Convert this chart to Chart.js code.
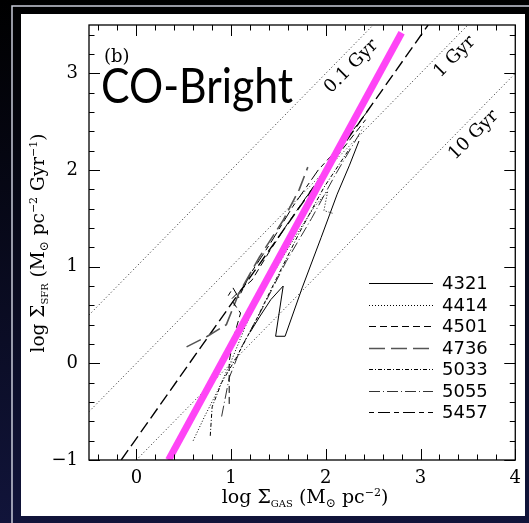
<!DOCTYPE html>
<html>
<head>
<meta charset="utf-8">
<script src="https://cdn.jsdelivr.net/npm/chart.js@4.4.0/dist/chart.umd.min.js"></script>
<style>
html, body { margin: 0; padding: 0; background: #05060f; }
canvas { display: block; }
</style>
</head>
<body>
<canvas id="ksPlot" width="529" height="523"></canvas>
<script>
// Axis ticks
const xTicks = [0, 1, 2, 3, 4];
const yTicks = [-1, 0, 1, 2, 3];

// Radial profiles, [log Σgas, log ΣSFR]
const galaxies = ['4321', '4414', '4501', '4736', '5033', '5055', '5457'];
const ngc4321 = [[1.20, 0.32], [1.30, 0.48], [1.42, 0.66], [1.55, 0.80], [1.47, 0.28], [1.57, 0.28], [1.75, 0.78], [1.95, 1.30], [2.12, 1.75], [2.25, 2.05], [2.35, 2.30]];
const ngc4414 = [[0.60, -0.80], [0.72, -0.55], [0.85, -0.30], [1.00, 0.02], [1.15, 0.38], [1.30, 0.70], [1.50, 1.02], [1.70, 1.35], [1.88, 1.62], [2.02, 1.78], [1.98, 1.58], [2.08, 1.55]];
const ngc4501 = [[0.98, -0.42], [0.98, 0.02], [1.03, 0.28], [1.10, 0.52], [1.00, 0.66], [1.08, 0.74], [1.22, 0.86], [1.40, 1.15], [1.60, 1.45], [1.85, 1.80], [2.10, 2.12], [2.42, 2.52]];
const ngc4736 = [[0.53, 0.17], [0.75, 0.28], [0.95, 0.40], [1.08, 0.72], [1.30, 1.10], [1.55, 1.48], [1.72, 1.80], [1.81, 2.03]];
const ngc5033 = [[0.78, -0.75], [0.80, -0.45], [0.90, -0.20], [1.05, 0.05], [1.25, 0.42], [1.48, 0.88], [1.72, 1.35], [1.98, 1.82], [2.25, 2.22]];
const ngc5055 = [[0.90, -0.55], [0.98, -0.15], [1.10, 0.15], [1.32, 0.55], [1.58, 1.05], [1.85, 1.50], [2.10, 1.95], [2.40, 2.45]];
const ngc5457 = [[0.97, 0.70], [1.02, 0.78], [1.08, 0.68], [1.20, 0.92], [1.42, 1.25], [1.65, 1.62], [1.92, 2.00], [2.20, 2.30], [2.45, 2.62]];

// Constant depletion times
const deplTimes = ['0.1 Gyr', '1 Gyr', '10 Gyr'];
const depl01 = [[-0.5, 0.5], [2.5, 3.5]];
const depl1 = [[-0.5, -0.5], [3.5, 3.5]];
const depl10 = [[0, -1], [4, 3]];

// Fits
const fitAll = [[-0.16, -1], [3.08, 3.5]];
const fitBright = [[0.34, -1], [2.80, 3.42]];

const toXY = arr => arr.map(p => ({ x: p[0], y: p[1] }));

const trackStyles = {
    '4321': { borderDash: [], borderColor: '#000', borderWidth: 1 },
    '4414': { borderDash: [1, 2], borderColor: '#000', borderWidth: 1 },
    '4501': { borderDash: [7, 4], borderColor: '#000', borderWidth: 1 },
    '4736': { borderDash: [16, 6], borderColor: '#555', borderWidth: 1.6 },
    '5033': { borderDash: [4, 2, 1, 2], borderColor: '#000', borderWidth: 1 },
    '5055': { borderDash: [11, 3, 1, 3], borderColor: '#333', borderWidth: 1 },
    '5457': { borderDash: [5, 4, 12, 4], borderColor: '#000', borderWidth: 1 }
};
const trackData = [ngc4321, ngc4414, ngc4501, ngc4736, ngc5033, ngc5055, ngc5457];

function lineSet(label, pts, style, order) {
    return Object.assign({
        label: label,
        data: toXY(pts),
        showLine: true,
        fill: false,
        pointRadius: 0,
        tension: 0,
        order: order
    }, style);
}

const datasets = [];
datasets.push(lineSet('fitBright', fitBright, { borderColor: '#ff44f6', borderWidth: 7, borderCapStyle: 'butt' }, 0));
galaxies.forEach((g, i) => datasets.push(lineSet(g, trackData[i], trackStyles[g], 1)));
datasets.push(lineSet('fitAll', fitAll, { borderColor: '#000', borderWidth: 1.4, borderDash: [12, 5] }, 2));
[depl01, depl1, depl10].forEach((d, i) => {
    datasets.push(lineSet(deplTimes[i], d, { borderColor: '#222', borderWidth: 1, borderDash: [1, 2.5] }, 3));
});

// Mixed-size text run: [text, fontSize, baselineShift]
function richWidth(ctx, parts, family) {
    return parts.reduce((w, p) => {
        ctx.font = p[1] + 'px ' + family;
        return w + ctx.measureText(p[0]).width;
    }, 0);
}
function drawRich(ctx, parts, x, y, family) {
    ctx.textAlign = 'left';
    let cx = x - richWidth(ctx, parts, family) / 2;
    parts.forEach(p => {
        ctx.font = p[1] + 'px ' + family;
        ctx.fillText(p[0], cx, y + p[2]);
        cx += ctx.measureText(p[0]).width;
    });
}

const SERIF = '"DejaVu Serif", serif';

const framePlugin = {
    id: 'framePlugin',
    beforeDraw(chart) {
        const { ctx, width, height } = chart;
        ctx.save();
        const g = ctx.createLinearGradient(0, 0, 0, height);
        g.addColorStop(0, '#000000');
        g.addColorStop(1, '#11143a');
        ctx.fillStyle = g;
        ctx.fillRect(0, 0, width, height);
        ctx.strokeStyle = '#c9ccd9';
        ctx.lineWidth = 1.5;
        ctx.beginPath();
        ctx.moveTo(12, height);
        ctx.lineTo(12, 6);
        ctx.lineTo(width, 6);
        ctx.stroke();
        ctx.fillStyle = '#ffffff';
        ctx.fillRect(21, 14, 504, 502);
        ctx.restore();
    },
    afterDraw(chart) {
        const { ctx, chartArea: a } = chart;
        const xs = chart.scales.x, ys = chart.scales.y;
        ctx.save();

        // box
        ctx.strokeStyle = '#000';
        ctx.lineWidth = 1.3;
        ctx.strokeRect(a.left, a.top, a.right - a.left, a.bottom - a.top);

        // inward ticks on all four sides, minor every 0.2
        ctx.lineWidth = 1;
        ctx.beginPath();
        for (let i = -5; i <= 40; i++) {
            const v = i / 5;
            const len = (i % 5 === 0) ? 11 : 5.5;
            if (v >= xs.min && v <= xs.max) {
                const px = Math.round(xs.getPixelForValue(v)) + 0.5;
                ctx.moveTo(px, a.bottom); ctx.lineTo(px, a.bottom - len);
                ctx.moveTo(px, a.top); ctx.lineTo(px, a.top + len);
            }
            if (v >= ys.min && v <= ys.max) {
                const py = Math.round(ys.getPixelForValue(v)) + 0.5;
                ctx.moveTo(a.left, py); ctx.lineTo(a.left + len, py);
                ctx.moveTo(a.right, py); ctx.lineTo(a.right - len, py);
            }
        }
        ctx.stroke();

        ctx.fillStyle = '#000';
        ctx.textBaseline = 'alphabetic';

        // axis titles
        drawRich(ctx, [['log Σ', 19, 0], ['GAS', 10, 4], [' (M', 19, 0], ['⊙', 12, 4], [' pc', 19, 0], ['−2', 11, -7], [')', 19, 0]], 305, 503, SERIF);
        ctx.save();
        ctx.translate(44, 243);
        ctx.rotate(-Math.PI / 2);
        drawRich(ctx, [['log Σ', 18.5, 0], ['SFR', 10, 4], [' (M', 18.5, 0], ['⊙', 12, 4], [' pc', 18.5, 0], ['−2', 11, -7], [' Gyr', 18.5, 0], ['−1', 11, -7], [')', 18.5, 0]], 0, 0, SERIF);
        ctx.restore();

        // panel tags
        ctx.textAlign = 'left';
        ctx.font = '18px ' + SERIF;
        ctx.fillText('(b)', 104, 62);
        ctx.save();
        ctx.translate(101, 103);
        ctx.scale(0.95, 1.06);
        ctx.font = '45px Lato, "Open Sans", sans-serif';
        ctx.fillText('CO-Bright', 0, 0);
        ctx.restore();

        // depletion-time labels along the dotted lines
        const deplLabelAt = [[2.27, 3.07], [3.36, 3.17], [3.56, 2.36]];
        ctx.font = '18px ' + SERIF;
        ctx.textAlign = 'center';
        ctx.textBaseline = 'middle';
        deplTimes.forEach((t, i) => {
            ctx.save();
            ctx.translate(xs.getPixelForValue(deplLabelAt[i][0]), ys.getPixelForValue(deplLabelAt[i][1]));
            ctx.rotate(-Math.PI / 4);
            ctx.fillText(t, 0, 0);
            ctx.restore();
        });

        // legend
        ctx.textAlign = 'left';
        ctx.textBaseline = 'middle';
        ctx.font = '18px "DejaVu Sans", "Liberation Sans", sans-serif';
        galaxies.forEach((g, i) => {
            const st = trackStyles[g];
            const y = Math.round(283 + i * 21.5) + 0.5;
            ctx.strokeStyle = st.borderColor;
            ctx.lineWidth = st.borderWidth;
            ctx.setLineDash(st.borderDash);
            ctx.beginPath();
            ctx.moveTo(369, y);
            ctx.lineTo(433, y);
            ctx.stroke();
            ctx.fillText(g, 442, y + 1);
        });
        ctx.restore();
    }
};

new Chart(document.getElementById('ksPlot'), {
    type: 'scatter',
    data: { datasets: datasets },
    options: {
        responsive: false,
        animation: false,
        layout: { padding: { top: 25, right: 10, left: 0, bottom: 0 } },
        plugins: { legend: { display: false }, tooltip: { enabled: false } },
        scales: {
            x: {
                type: 'linear',
                min: -0.5,
                max: 4,
                grid: { display: false, drawTicks: false },
                border: { display: false },
                afterBuildTicks: s => { s.ticks = xTicks.map(v => ({ value: v })); },
                afterFit: s => { s.height = 63; },
                ticks: { color: '#000', padding: 8, maxRotation: 0, font: { family: SERIF, size: 18 } }
            },
            y: {
                type: 'linear',
                min: -1,
                max: 3.5,
                grid: { display: false, drawTicks: false },
                border: { display: false },
                afterBuildTicks: s => { s.ticks = yTicks.map(v => ({ value: v })); },
                afterFit: s => { s.width = 89; },
                ticks: {
                    color: '#000',
                    padding: 11,
                    font: { family: SERIF, size: 18 },
                    callback: v => (v < 0 ? '−' + Math.abs(v) : String(v))
                }
            }
        }
    },
    plugins: [framePlugin]
});
</script>
</body>
</html>
